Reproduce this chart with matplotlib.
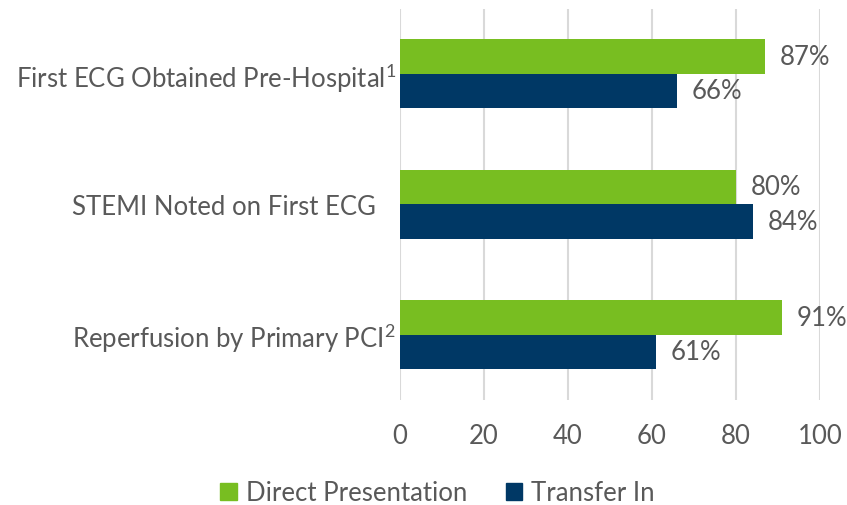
import matplotlib
matplotlib.use("Agg")
import matplotlib.pyplot as plt
import numpy as np
from matplotlib.patches import Patch

# Chart data
categories = ["First ECG Obtained Pre-Hospital$^{1}$",
              "STEMI Noted on First ECG   ",
              "Reperfusion by Primary PCI$^{2}$"]
direct = [87, 80, 91]
transfer = [66, 84, 61]
series_names = ["Direct Presentation", "Transfer In"]

GREEN = "#78be21"
NAVY = "#003865"
TEXT = "#595959"
FS = 18.5

plt.rcParams["font.family"] = ["Lato", "DejaVu Sans"]
plt.rcParams["mathtext.fontset"] = "custom"
plt.rcParams["mathtext.rm"] = "Lato"
plt.rcParams["mathtext.it"] = "Lato"

fig = plt.figure(figsize=(8.47, 5.06), dpi=100)
ax = fig.add_axes([0.4723, 0.2081, 0.4959, 0.7731])

y = np.arange(len(categories))
h = 0.264
ax.barh(y - h / 2, direct, height=h, color=GREEN, zorder=3)
ax.barh(y + h / 2, transfer, height=h, color=NAVY, zorder=3)

for i in range(len(categories)):
    ax.text(direct[i] + 3.5, y[i] - h / 2, f"{direct[i]}%", va="center", ha="left",
            fontsize=FS, color=TEXT)
    ax.text(transfer[i] + 3.5, y[i] + h / 2, f"{transfer[i]}%", va="center", ha="left",
            fontsize=FS, color=TEXT)

ax.set_xlim(0, 100)
ax.set_ylim(2.5, -0.5)
ax.set_xticks([0, 20, 40, 60, 80, 100])
ax.set_yticks(y)
ax.set_yticklabels(categories)
ax.tick_params(axis="x", length=0, pad=17, labelsize=FS, labelcolor=TEXT)
ax.tick_params(axis="y", length=0, pad=3, labelsize=FS, labelcolor=TEXT)
ax.grid(axis="x", color="#d9d9d9", linewidth=1.5, zorder=0)
for s in ax.spines.values():
    s.set_visible(False)

handles = [Patch(color=GREEN), Patch(color=NAVY)]
fig.legend(handles, series_names, loc="center", bbox_to_anchor=(0.5165, 0.024),
           ncol=2, frameon=False, fontsize=FS, labelcolor=TEXT,
           handlelength=0.65, handleheight=0.65, handletextpad=0.35, columnspacing=1.5)

fig.savefig("out.png", dpi=100)
